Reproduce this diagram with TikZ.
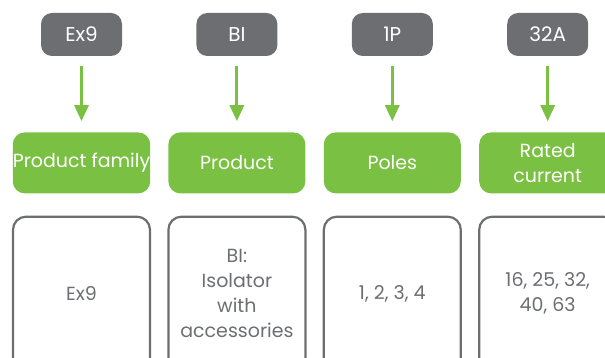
\documentclass[tikz,border=0pt]{standalone}
\usepackage{fontspec}
\setmainfont{Poppins}
\usepackage{tikz}
\usetikzlibrary{arrows.meta, positioning}
\definecolor{codegray}{HTML}{6D6E71}
\definecolor{leafgreen}{HTML}{7AC143}

\begin{document}
\begin{tikzpicture}[
    node distance=76pt and 74pt,
    every node/.style={rounded corners, align=center, inner sep=0pt,
      font=\fontsize{19}{25}\selectfont},
    code/.style={fill=codegray, text=white, minimum width=81pt, minimum height=43pt, rounded corners=11pt,
      font=\fontsize{20}{25}\selectfont},
    field/.style={fill=leafgreen, text=white, minimum width=137pt, minimum height=61pt, rounded corners=12pt},
    choice/.style={draw=codegray, line width=2.2pt, text=codegray, minimum width=137pt, minimum height=154pt, rounded corners=13pt},
    arrow/.style={-{Triangle[width=14pt,length=16pt]}, line width=3pt, leafgreen,
      shorten <=10pt, shorten >=11pt}
    ]
    \useasboundingbox (0,0) rectangle (605pt,-358pt);
    \clip (0,0) rectangle (605pt,-358pt);

    % Nodes
    \node[code] (c_ex9)              at (81.5pt,-34.5pt) {Ex9};
    \node[code] (c_bi)               [right=of c_ex9] {BI};
    \node[code] (c_1p)               [right=of c_bi] {1P};
    \node[code] (c_32a)              [right=of c_1p] {32A};

    \node[field] (f_family)          [below=of c_ex9] {Product family};
    \node[field] (f_product)         [below=of c_bi] {Product};
    \node[field] (f_poles)           [below=of c_1p] {Poles};
    \node[field] (f_current)         [below=of c_32a] {Rated\\current};

    \node[choice] (v_family)         [below=22pt of f_family] {Ex9};
    \node[choice] (v_product)        [below=22pt of f_product] {BI:\\Isolator\\with\\accessories};
    \node[choice] (v_poles)          [below=22pt of f_poles] {1, 2, 3, 4};
    \node[choice] (v_current)        [below=22pt of f_current] {16, 25, 32,\\40, 63};

    % Arrows
    \draw[arrow] (c_ex9) -- (f_family);
    \draw[arrow] (c_bi) -- (f_product);
    \draw[arrow] (c_1p) -- (f_poles);
    \draw[arrow] (c_32a) -- (f_current);
\end{tikzpicture}
\end{document}
